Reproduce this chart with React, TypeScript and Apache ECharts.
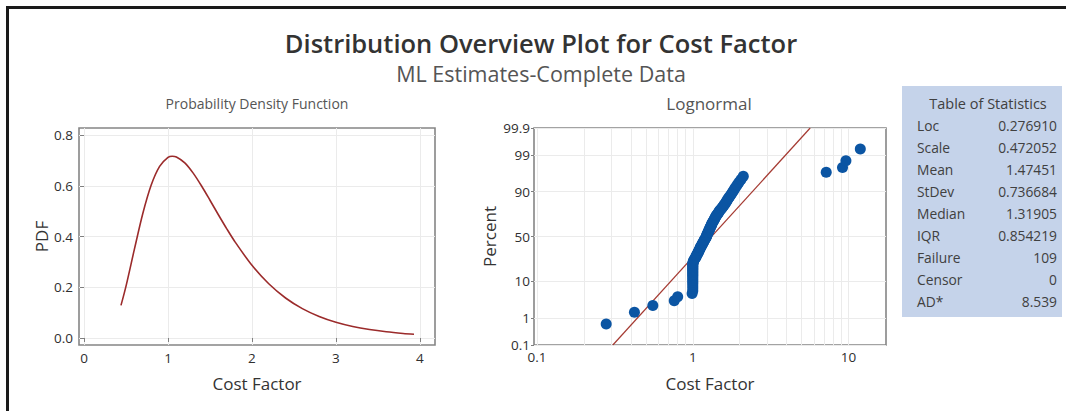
import React, { useEffect, useRef } from "react";
import * as echarts from "echarts";

const FONT = "'Segoe UI', 'Open Sans', 'Noto Sans', sans-serif";

const titleText = "Distribution Overview Plot for Cost Factor";
const subtitleText = "ML Estimates-Complete Data";
const pdfPanelTitle = "Probability Density Function";
const probPanelTitle = "Lognormal";
const xAxisTitle = "Cost Factor";

// Fitted density curve samples (Cost Factor, PDF)
const pdfX = [0.44, 0.5, 0.6, 0.7, 0.8, 0.9, 1.0, 1.05, 1.1, 1.2, 1.3, 1.4, 1.5, 1.6, 1.7, 1.8, 2.0, 2.2, 2.4, 2.6, 2.8, 3.0, 3.2, 3.4, 3.6, 3.8, 3.93];
const pdfY = [0.1285, 0.2046, 0.35, 0.4905, 0.6028, 0.6765, 0.7115, 0.7162, 0.7135, 0.6903, 0.6498, 0.5989, 0.5429, 0.4858, 0.4303, 0.378, 0.2865, 0.2136, 0.1576, 0.1157, 0.0847, 0.0619, 0.0453, 0.0333, 0.0245, 0.018, 0.0148];
const pdfXTicks = [0, 1, 2, 3, 4];
const pdfYTicks = [0, 0.2, 0.4, 0.6, 0.8];

// Observed cost factors, sorted (109 failures, no censoring)
const costFactor = [
  0.278, 0.422, 0.554, 0.76, 0.8,
  0.99, 1.0, 1.0, 1.0, 1.0, 1.0, 1.0, 1.0, 1.0, 1.0, 1.0, 1.0, 1.0, 1.0, 1.0, 1.0, 1.0, 1.0, 1.0, 1.0, 1.01, 1.01,
  1.02, 1.03, 1.04, 1.05, 1.05, 1.06, 1.07, 1.08, 1.08, 1.09, 1.1, 1.1, 1.11, 1.12, 1.12, 1.13, 1.14, 1.15, 1.15, 1.16,
  1.17, 1.18, 1.18, 1.19, 1.2, 1.21, 1.22, 1.22, 1.23, 1.23, 1.24, 1.25, 1.25, 1.26, 1.27, 1.27, 1.28, 1.29, 1.29, 1.3,
  1.31, 1.32, 1.32, 1.33, 1.34, 1.35, 1.36, 1.37, 1.38, 1.39, 1.4, 1.41, 1.42, 1.44, 1.45, 1.47, 1.48, 1.5, 1.52, 1.54,
  1.56, 1.58, 1.6, 1.62, 1.64, 1.66, 1.68, 1.7, 1.73, 1.76, 1.79, 1.82, 1.85, 1.89, 1.93, 1.98, 2.04, 2.11,
  7.19, 9.15, 9.62, 11.9,
];

const probXLabels = [0.1, 1, 10];
const probXGrid = [0.1, 0.2, 0.3, 0.4, 0.5, 0.6, 0.7, 0.8, 0.9, 1, 2, 3, 4, 5, 6, 7, 8, 9, 10];
const percentTicks = [0.1, 1, 10, 50, 90, 99, 99.9];
const percentTickLabels = ["0.1", "1", "10", "50", "90", "99", "99.9"];

const statLabels = ["Loc", "Scale", "Mean", "StDev", "Median", "IQR", "Failure", "Censor", "AD*"];
const statValues = ["0.276910", "0.472052", "1.47451", "0.736684", "1.31905", "0.854219", "109", "0", "8.539"];

// Standard normal quantile (Acklam's rational approximation)
function probit(p: number): number {
  const a = [-39.69683028665376, 220.9460984245205, -275.9285104469687, 138.357751867269, -30.66479806614716, 2.506628277459239];
  const b = [-54.47609879822406, 161.5858368580409, -155.6989798598866, 66.80131188771875, -13.28068155288572];
  const c = [-0.007784894002430293, -0.3223964580411365, -2.400758277161838, -2.549732539343734, 4.374664141464968, 2.938163982698783];
  const d = [0.007784695709041462, 0.3224671290700398, 2.445134137142996, 3.754408661907416];
  const pl = 0.02425;
  if (p < pl) {
    const q = Math.sqrt(-2 * Math.log(p));
    return (((((c[0] * q + c[1]) * q + c[2]) * q + c[3]) * q + c[4]) * q + c[5]) / ((((d[0] * q + d[1]) * q + d[2]) * q + d[3]) * q + 1);
  }
  if (p <= 1 - pl) {
    const q = p - 0.5;
    const r = q * q;
    return ((((((a[0] * r + a[1]) * r + a[2]) * r + a[3]) * r + a[4]) * r + a[5]) * q) / (((((b[0] * r + b[1]) * r + b[2]) * r + b[3]) * r + b[4]) * r + 1);
  }
  const q = Math.sqrt(-2 * Math.log(1 - p));
  return -(((((c[0] * q + c[1]) * q + c[2]) * q + c[3]) * q + c[4]) * q + c[5]) / ((((d[0] * q + d[1]) * q + d[2]) * q + d[3]) * q + 1);
}

function buildOption() {
  const n = costFactor.length;
  const zTicks = percentTicks.map((p) => probit(p / 100));
  const zMin = zTicks[0];
  const zMax = zTicks[zTicks.length - 1];
  // median-rank plotting positions
  const points = costFactor.map((x, i) => [x, probit((i + 1 - 0.3) / (n + 0.4))]);
  const loc = parseFloat(statValues[0]);
  const scale = parseFloat(statValues[1]);
  const fitLine = [
    [Math.exp(loc + scale * zMin), zMin],
    [Math.exp(loc + scale * zMax), zMax],
  ];

  const axisLabelStyle = { fontSize: 13.5, color: "#2f2f2f", fontFamily: FONT };
  const nameStyle = { fontSize: 17, color: "#333333", fontFamily: FONT };
  const gridLine = { show: true, lineStyle: { color: "#ebebeb", width: 1 } };
  const tickStyle = { color: "#7f7f7f", width: 1 };
  const tableFont = 13.8;

  const graphic: any[] = [
    {
      type: "rect",
      shape: { x: 7.5, y: 7.5, width: 1100, height: 500 },
      style: { fill: "none", stroke: "#1a1a1a", lineWidth: 3 },
      silent: true,
    },
    {
      type: "text",
      x: 541,
      y: 43,
      style: { text: titleText, fontSize: 25.5, fontWeight: 600, fontFamily: FONT, fill: "#333333", align: "center", verticalAlign: "middle" },
    },
    {
      type: "text",
      x: 541,
      y: 73.5,
      style: { text: subtitleText, fontSize: 21.5, fontFamily: FONT, fill: "#555555", align: "center", verticalAlign: "middle" },
    },
    {
      type: "text",
      x: 257,
      y: 103,
      style: { text: pdfPanelTitle, fontSize: 14, fontFamily: FONT, fill: "#555555", align: "center", verticalAlign: "middle" },
    },
    {
      type: "text",
      x: 709,
      y: 103,
      style: { text: probPanelTitle, fontSize: 17, fontFamily: FONT, fill: "#555555", align: "center", verticalAlign: "middle" },
    },
    {
      type: "rect",
      shape: { x: 902, y: 86, width: 160, height: 231 },
      style: { fill: "#c5d3ea" },
    },
    {
      type: "text",
      x: 988,
      y: 103,
      style: { text: "Table of Statistics", fontSize: 14.5, fontFamily: FONT, fill: "#404040", align: "center", verticalAlign: "middle" },
    },
  ];
  statLabels.forEach((label, k) => {
    const y = 125 + k * 22.1;
    graphic.push({
      type: "text",
      x: 917,
      y,
      style: { text: label, fontSize: tableFont, fontFamily: FONT, fill: "#404040", align: "left", verticalAlign: "middle" },
    });
    graphic.push({
      type: "text",
      x: 1057,
      y,
      style: { text: statValues[k], fontSize: tableFont, fontFamily: FONT, fill: "#404040", align: "right", verticalAlign: "middle" },
    });
  });

  return {
    animation: false,
    backgroundColor: "#ffffff",
    textStyle: { fontFamily: FONT },
    grid: [
      { left: 79, top: 128, width: 356, height: 217, show: true, borderColor: "#858585", borderWidth: 1.6, backgroundColor: "#ffffff", containLabel: false, outerBoundsMode: "none" },
      { left: 534, top: 128, width: 352, height: 217, show: true, borderColor: "#858585", borderWidth: 1.6, backgroundColor: "#ffffff", containLabel: false, outerBoundsMode: "none" },
    ],
    xAxis: [
      {
        type: "value",
        gridIndex: 0,
        min: -0.06,
        max: 4.18,
        axisLine: { show: false },
        axisTick: { show: true, length: 4, lineStyle: tickStyle, customValues: pdfXTicks },
        axisLabel: { ...axisLabelStyle, margin: 6, customValues: pdfXTicks, formatter: (v: number) => String(v) },
        splitLine: gridLine,
        name: xAxisTitle,
        nameLocation: "middle",
        nameGap: 30,
        nameTextStyle: nameStyle,
      },
      {
        type: "log",
        logBase: 10,
        gridIndex: 1,
        min: 0.0956,
        max: 17.4,
        axisLine: { show: false },
        axisTick: { show: false, customValues: probXGrid },
        axisLabel: { ...axisLabelStyle, margin: 5, customValues: probXLabels, formatter: (v: number) => String(Number(Number(v).toPrecision(4))) },
        splitLine: gridLine,
        name: xAxisTitle,
        nameLocation: "middle",
        nameGap: 30,
        nameTextStyle: nameStyle,
      },
    ],
    yAxis: [
      {
        type: "value",
        gridIndex: 0,
        min: -0.0276,
        max: 0.8276,
        axisLine: { show: false },
        axisTick: { show: true, length: 4, lineStyle: tickStyle, customValues: pdfYTicks },
        axisLabel: { ...axisLabelStyle, margin: 6, customValues: pdfYTicks, formatter: (v: number) => Number(v).toFixed(1) },
        splitLine: gridLine,
        name: "PDF",
        nameLocation: "middle",
        nameGap: 25,
        nameTextStyle: nameStyle,
      },
      {
        type: "value",
        gridIndex: 1,
        min: zMin,
        max: zMax,
        axisLine: { show: false },
        axisTick: { show: true, length: 3, lineStyle: tickStyle, customValues: zTicks },
        axisLabel: {
          ...axisLabelStyle,
          margin: 4,
          customValues: zTicks,
          formatter: (v: number) => {
            let best = 0;
            zTicks.forEach((z, i) => {
              if (Math.abs(z - v) < Math.abs(zTicks[best] - v)) best = i;
            });
            return percentTickLabels[best];
          },
        },
        splitLine: gridLine,
        name: "Percent",
        nameLocation: "middle",
        nameGap: 36,
        nameTextStyle: nameStyle,
      },
    ],
    series: [
      {
        type: "line",
        xAxisIndex: 0,
        yAxisIndex: 0,
        data: pdfX.map((x, i) => [x, pdfY[i]]),
        showSymbol: false,
        smooth: 0.3,
        lineStyle: { color: "#9b2b2b", width: 1.6 },
        z: 3,
      },
      {
        type: "line",
        xAxisIndex: 1,
        yAxisIndex: 1,
        data: fitLine,
        showSymbol: false,
        lineStyle: { color: "#a53a32", width: 1.2 },
        z: 3,
      },
      {
        type: "scatter",
        xAxisIndex: 1,
        yAxisIndex: 1,
        data: points,
        symbol: "circle",
        symbolSize: 11,
        itemStyle: { color: "#0b55a3", opacity: 1 },
        z: 4,
      },
    ],
    graphic,
  };
}

export default function App() {
  const ref = useRef<HTMLDivElement>(null);
  useEffect(() => {
    if (!ref.current) return;
    const chart = echarts.init(ref.current, undefined, { renderer: "svg" });
    chart.setOption(buildOption() as any);
    return () => chart.dispose();
  }, []);
  return (
    <div
      ref={ref}
      style={{ position: "fixed", left: 0, top: 0, width: 1066, height: 411, background: "#ffffff" }}
    />
  );
}
